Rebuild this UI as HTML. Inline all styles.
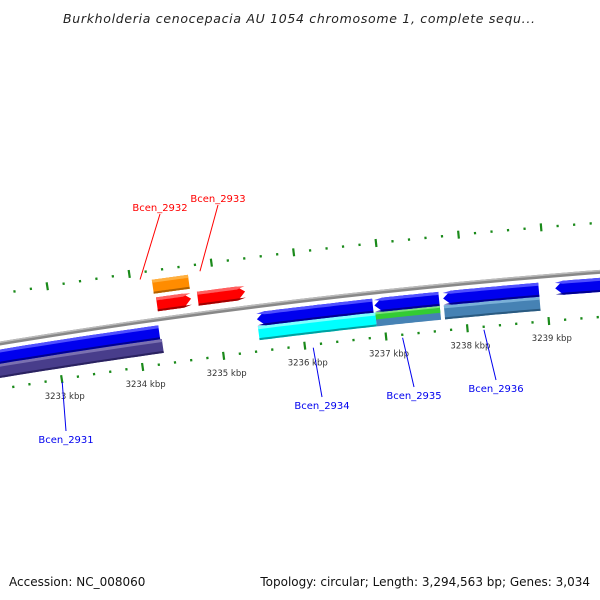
<!DOCTYPE html>
<html><head><meta charset="utf-8">
<style>
html,body{margin:0;padding:0;background:#fff;}
svg{display:block;font-family:"DejaVu Sans","Liberation Sans",sans-serif;}
</style></head>
<body>
<svg id="map" width="600" height="600" viewBox="0 0 600 600" xmlns="http://www.w3.org/2000/svg">
<text x="299" y="23" text-anchor="middle" font-size="12.5" font-style="italic" fill="#222" textLength="472">Burkholderia cenocepacia AU 1054 chromosome 1, complete sequ...</text>
<text x="9" y="586" font-size="12" fill="#111">Accession: NC_008060</text>
<text x="590" y="586" font-size="12" fill="#111" text-anchor="end">Topology: circular; Length: 3,294,563 bp; Genes: 3,034</text>
<g id="layer"></g>
</svg>
<script>
// data (kbp)
const tickLabels = [3233, 3234, 3235, 3236, 3237, 3238, 3239];
const geneNames  = ["Bcen_2931","Bcen_2932","Bcen_2933","Bcen_2934","Bcen_2935","Bcen_2936","Bcen_2937"];
const geneStart  = [3231.0, 3234.28, 3234.78, 3235.46, 3236.90, 3237.74, 3239.11];
const geneEnd    = [3234.26, 3234.70, 3235.36, 3236.88, 3237.69, 3238.91, 3240.5];
const geneStrand = [-1, 1, 1, -1, -1, -1, -1];
const cdsStart   = [3231.0, 3234.26, 3236.90, 3235.46, 3237.74];
const cdsEnd     = [3234.28, 3234.70, 3237.69, 3236.90, 3238.91];
const cdsKind    = ["purple","orange","green-steel","cyan","steel"];
const labelK     = [3233.0, 3234.12, 3234.85, 3236.1, 3237.2, 3238.2];
const labelPos   = [[66,443],[160,211],[218,202],[322,409],[414,399],[496,392]];

const CX=1107, CY=7073, R=6820, TH0=-0.1549, DTH=0.01207;
const NS="http://www.w3.org/2000/svg";
const layer=document.getElementById('layer');
function th(k){return TH0+(k-3233)*DTH;}
function P(r,t){return [CX+r*Math.sin(t), CY-r*Math.cos(t)];}
function mk(tag,attrs,parent){const e=document.createElementNS(NS,tag);for(const a in attrs)e.setAttribute(a,attrs[a]);(parent||layer).appendChild(e);return e;}
function arcPts(r,t1,t2,n){const p=[];for(let i=0;i<=n;i++){p.push(P(r,t1+(t2-t1)*i/n));}return p;}
function band(r1,r2,t1,t2,fill,name,strand,head){
  // r1 inner, r2 outer
  const hd=head?8/R:0;
  let pts=[];
  if(strand>0){const te=t2-hd;
    pts=pts.concat(arcPts(r2,t1,te,20));pts.push(P((r1+r2)/2+1,t2));pts=pts.concat(arcPts(r1,te,t1,20));}
  else if(strand<0){const ts=t1+hd;
    pts.push(P((r1+r2)/2,t1));pts=pts.concat(arcPts(r2,ts,t2,20));pts=pts.concat(arcPts(r1,t2,ts,20));}
  else {pts=pts.concat(arcPts(r2,t1,t2,20));pts=pts.concat(arcPts(r1,t2,t1,20));}
  const e=mk('polygon',{points:pts.map(p=>p[0].toFixed(1)+','+p[1].toFixed(1)).join(' '),fill:fill});
  
  
  return e;
}
function feature(r,t1,t2,base,light,dark,name,strand,head){
  const h=7;
  band(r-h,r+h,t1,t2,base,name,strand,head);
  band(r+h-3,r+h,t1,t2,light,name+'-highlight',strand,head);
  band(r-h,r-h+2,t1,t2,dark,name+'-shadow',strand,head);
}
// backbone
band(R-2,R+2,th(3231),th(3241),'#888','backbone',0,false);
band(R+0.5,R+2,th(3231),th(3241),'#bbb','backbone-highlight',0,false);
// ticks on two rings
const rings=[6775,6869];
rings.forEach((rr,ri)=>{
  for(let i=0;i<=45;i++){const k=3232+i*0.2;const t=th(k);const major=Math.abs(k-Math.round(k))<1e-6;
    const a=P(rr-(major?4:1.2),t),b=P(rr+(major?4:1.2),t);
    const e=mk('line',{x1:a[0],y1:a[1],x2:b[0],y2:b[1],stroke:'#1a8a1a','stroke-width':2.2});
    
    
  }
});
tickLabels.forEach(k=>{const p=P(6775,th(k));
  const e=mk('text',{x:p[0]+3,y:p[1]+20,'text-anchor':'middle','font-size':'8.5',fill:'#333'});
  e.textContent=k+' kbp';
  
  
});
// CDS lanes
const kinds={purple:['#483d8b','#7a70b0','#2a2260'],orange:['#ff8c00','#ffb040','#b06000'],cyan:['#00ffff','#80ffff','#00a0a0'],steel:['#4682b4','#7ab0d8','#2a5a80']};
cdsKind.forEach((kd,i)=>{const t1=th(cdsStart[i]),t2=th(cdsEnd[i]);
  if(kd==='orange'){feature(6853,t1,t2,...kinds.orange,'cds-'+i,0,false);}
  else if(kd==='green-steel'){band(6786,6800,t1,t2,'#4682b4','cds-'+i+'-steel',0,false);band(6793,6800,t1,t2,'#33cc33','cds-'+i+'-green',0,false);band(6798,6800,t1,t2,'#7fe07f','cds-'+i+'-hl',0,false);}
  else feature(6793,t1,t2,...kinds[kd],'cds-'+i,0,false);
});
// genes
geneStart.forEach((s,i)=>{const t1=th(s),t2=th(geneEnd[i]);
  if(geneStrand[i]>0) feature(6835,t1,t2,'#ff0000','#ff6060','#a00000','gene-'+geneNames[i],1,true);
  else feature(6807,t1,t2,'#0000ee','#5050ff','#000090','gene-'+geneNames[i],-1,i>0);
});
// labels
labelK.forEach((k,i)=>{const fw=geneStrand[i]>0;const lp=labelPos[i];
  const p=P(fw?6862:6772,th(k));
  const col=fw?'#ff0000':'#0000ee';
  const l=mk('line',{x1:p[0],y1:p[1],x2:lp[0],y2:fw?lp[1]+3:lp[1]-12,stroke:col,'stroke-width':1});
  
  
  const t=mk('text',{x:lp[0],y:lp[1],'text-anchor':'middle','font-size':'10',fill:col});
  t.textContent=geneNames[i];
  
  
});
</script>
</body></html>
